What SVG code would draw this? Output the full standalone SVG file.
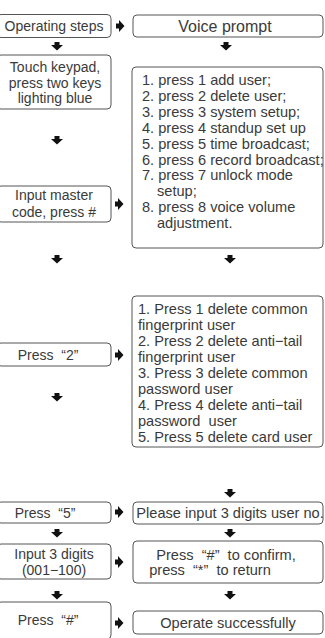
<svg xmlns="http://www.w3.org/2000/svg" width="325" height="638" viewBox="0 0 325 638">
<style>
.box{fill:#fff;stroke:#555;stroke-width:1}
text{font-family:"Liberation Sans",Arial,sans-serif;font-size:14px;fill:#3a3a3a}
.c{text-anchor:middle}
.l{font-size:14.6px}
.a{fill:#111}
</style>
<defs>
<path id="dn" d="M-2.5,-4 h5 v3 h3.5 l-6,5.5 l-6,-5.5 h3.5 z"/>
<path id="rt" d="M-4,-2.5 v5 h3 v3.5 l5.5,-6 l-5.5,-6 v3.5 z"/>
</defs>
<rect width="325" height="638" fill="#fff"/>
<g id="n1"><rect class="box" x="-3" y="14.5" width="114" height="23" rx="4"/><text class="c" x="54" y="31">Operating steps</text></g>
<g id="n2"><rect class="box" x="133" y="15" width="190" height="22" rx="4"/><text class="c" x="225" y="31.5" style="font-size:16px">Voice prompt</text></g>
<g id="n3"><rect class="box" x="-3" y="55" width="114" height="54" rx="4"/>
<text class="c" x="55" y="72">Touch keypad,</text><text class="c" x="55" y="87.5">press two keys</text><text class="c" x="55" y="103">lighting blue</text></g>
<g id="n4" class="l"><rect class="box" x="132" y="67" width="191" height="181" rx="4"/>
<text class="l" x="142" y="85">1. press 1 add user;</text>
<text class="l" x="142" y="101">2. press 2 delete user;</text>
<text class="l" x="142" y="117">3. press 3 system setup;</text>
<text class="l" x="142" y="133">4. press 4 standup set up</text>
<text class="l" x="142" y="148.5">5. press 5 time broadcast;</text>
<text class="l" x="142" y="164.5">6. press 6 record broadcast;</text>
<text class="l" x="142" y="180">7. press 7 unlock mode</text>
<text class="l" x="157" y="195.5">setup;</text>
<text class="l" x="142" y="211.5">8. press 8 voice volume</text>
<text class="l" x="157" y="227.5">adjustment.</text></g>
<g id="n5"><rect class="box" x="-3" y="186" width="114" height="36" rx="4"/>
<text class="c" x="54" y="200">Input master</text><text class="c" x="54" y="217">code, press #</text></g>
<g id="n6"><rect class="box" x="-3" y="343" width="114" height="23" rx="4"/><text class="c" x="48" y="359.5" xml:space="preserve">Press  “2”</text></g>
<g id="n7"><rect class="box" x="132" y="296" width="191" height="151" rx="4"/>
<text class="l" x="138" y="314">1. Press 1 delete common</text>
<text class="l" x="138" y="329.5">fingerprint user</text>
<text class="l" x="138" y="346">2. Press 2 delete anti−tail</text>
<text class="l" x="138" y="362">fingerprint user</text>
<text class="l" x="138" y="378">3. Press 3 delete common</text>
<text class="l" x="138" y="393.5">password user</text>
<text class="l" x="138" y="410">4. Press 4 delete anti−tail</text>
<text class="l" x="138" y="426" xml:space="preserve">password  user</text>
<text class="l" x="138" y="442">5. Press 5 delete card user</text></g>
<g id="n8"><rect class="box" x="-3" y="502" width="114" height="21" rx="4"/><text class="c" x="45" y="517.5" xml:space="preserve">Press  “5”</text></g>
<g id="n9"><rect class="box" x="133" y="502" width="190" height="22" rx="4"/><text class="c l" x="230" y="518">Please input 3 digits user no.</text></g>
<g id="n10"><rect class="box" x="-3" y="544" width="114" height="35" rx="4"/>
<text class="c" x="54" y="559">Input 3 digits</text><text class="c" x="54" y="575">(001−100)</text></g>
<g id="n11"><rect class="box" x="133" y="541" width="190" height="42" rx="4"/>
<text class="c l" x="226" y="560" xml:space="preserve">Press  “#”  to confirm,</text><text class="c l" x="210" y="575" xml:space="preserve">press  “*”  to return</text></g>
<g id="n12"><rect class="box" x="-3" y="602" width="114" height="37" rx="4"/><text class="c" x="48" y="625" xml:space="preserve">Press  “#”</text></g>
<g id="n13"><rect class="box" x="133" y="611" width="190" height="23" rx="4"/><text class="c l" x="228" y="628">Operate successfully</text></g>
<g id="connectors" class="a">
<use href="#rt" x="120" y="26"/>
<use href="#dn" x="57" y="46"/>
<use href="#dn" x="226" y="46"/>
<use href="#dn" x="57" y="140"/>
<use href="#rt" x="119" y="204"/>
<use href="#dn" x="57" y="259"/>
<use href="#dn" x="230" y="259"/>
<use href="#rt" x="119" y="355"/>
<use href="#dn" x="57" y="397"/>
<use href="#dn" x="230" y="493"/>
<use href="#rt" x="119" y="512"/>
<use href="#dn" x="57" y="533"/>
<use href="#dn" x="230" y="533"/>
<use href="#rt" x="119" y="562"/>
<use href="#dn" x="57" y="595"/>
<use href="#dn" x="230" y="595"/>
<use href="#rt" x="119" y="623"/>
</g>
</svg>
